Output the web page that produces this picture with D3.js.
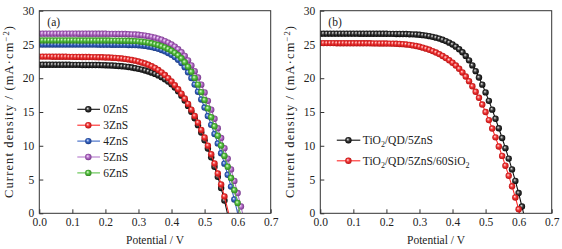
<!DOCTYPE html>
<html>
<head>
<meta charset="utf-8">
<script src="https://cdn.jsdelivr.net/npm/d3@7"></script>
<style>
  body { margin: 0; background: #fff; }
  svg { display: block; }
  text { font-family: "Liberation Serif", "Times New Roman", serif; fill: #222; }
</style>
</head>
<body>
<svg id="chart" width="562" height="249"></svg>
<script>
// Potential (V) of each measured point
const volts = [0.00,0.01,0.02,0.03,0.04,0.05,0.06,0.07,0.08,0.09,
  0.10,0.11,0.12,0.13,0.14,0.15,0.16,0.17,0.18,0.19,
  0.20,0.21,0.22,0.23,0.24,0.25,0.26,0.27,0.28,0.29,
  0.30,0.31,0.32,0.33,0.34,0.35,0.36,0.37,0.38,0.39,
  0.40,0.41,0.42,0.43,0.44,0.45,0.46,0.47,0.48,0.49,
  0.50,0.51,0.52,0.53,0.54,0.55,0.56,0.57,0.58,0.59,
  0.60,0.61];

// Current density (mA/cm2), one value per point of volts
const j0ZnS = [22.0,22.0,22.0,22.0,22.0,22.0,21.99,21.99,21.99,21.99,
  21.98,21.98,21.98,21.97,21.97,21.97,21.96,21.96,21.95,21.94,
  21.92,21.9,21.88,21.85,21.81,21.77,21.72,21.66,21.58,21.49,
  21.39,21.28,21.15,21.0,20.83,20.64,20.42,20.16,19.86,19.51,
  19.1,18.62,18.06,17.42,16.7,15.9,15.03,14.08,13.05,11.95,
  10.8,9.6,8.3,6.9,5.4,3.75,1.9];
const j3ZnS = [23.2,23.2,23.2,23.2,23.19,23.19,23.19,23.18,23.18,23.17,
  23.17,23.16,23.16,23.15,23.14,23.14,23.13,23.12,23.11,23.1,
  23.08,23.06,23.04,23.01,22.97,22.92,22.86,22.79,22.7,22.6,
  22.48,22.34,22.18,21.99,21.77,21.52,21.22,20.87,20.47,20.02,
  19.52,18.97,18.37,17.71,16.99,16.2,15.35,14.42,13.42,12.35,
  11.22,10.02,8.75,7.38,5.9,4.28,2.5];
const j4ZnS = [25.0,25.0,25.0,25.0,25.0,25.0,25.0,24.99,24.99,24.99,
  24.99,24.99,24.98,24.98,24.98,24.98,24.98,24.98,24.97,24.97,
  24.97,24.97,24.96,24.96,24.95,24.95,24.94,24.93,24.92,24.91,
  24.89,24.85,24.79,24.71,24.61,24.49,24.35,24.18,23.98,23.74,
  23.46,23.13,22.74,22.26,21.64,20.88,20.02,19.06,18.0,16.86,
  15.66,14.41,13.1,11.75,10.35,8.9,7.35,5.7,3.95,2.05];
const j5ZnS = [26.6,26.6,26.6,26.6,26.6,26.6,26.6,26.6,26.6,26.6,
  26.6,26.6,26.59,26.59,26.59,26.59,26.59,26.58,26.58,26.58,
  26.58,26.57,26.57,26.56,26.56,26.55,26.54,26.52,26.5,26.47,
  26.43,26.38,26.31,26.23,26.13,26.01,25.87,25.7,25.5,25.27,
  25.0,24.68,24.3,23.85,23.3,22.65,21.9,21.05,20.1,19.05,
  17.9,16.65,15.35,14.0,12.6,11.15,9.65,8.1,6.5,4.8,
  3.0,1.0];
const j6ZnS = [25.6,25.6,25.6,25.6,25.6,25.6,25.6,25.6,25.6,25.6,
  25.6,25.6,25.59,25.59,25.59,25.59,25.59,25.58,25.58,25.58,
  25.58,25.58,25.57,25.57,25.56,25.56,25.55,25.54,25.52,25.5,
  25.46,25.41,25.35,25.27,25.17,25.05,24.91,24.75,24.56,24.33,
  24.07,23.76,23.4,22.95,22.38,21.7,20.95,20.05,19.05,17.95,
  16.78,15.53,14.23,12.88,11.48,10.03,8.5,6.9,5.23,3.43,
  1.53];
const jSiO2 = [25.2,25.2,25.2,25.2,25.2,25.19,25.19,25.19,25.19,25.18,
  25.18,25.18,25.18,25.17,25.17,25.17,25.16,25.16,25.15,25.15,
  25.14,25.13,25.12,25.1,25.08,25.05,25.0,24.94,24.86,24.77,
  24.66,24.53,24.38,24.21,24.02,23.81,23.57,23.3,23.0,22.67,
  22.3,21.88,21.4,20.86,20.25,19.57,18.82,18.0,17.1,16.1,
  15.0,13.8,12.55,11.25,9.9,8.5,7.05,5.55,4.0,2.35,
  0.6];

// open-circuit potential where each fitted line meets J = 0
const vocA = [0.569, 0.573, 0.600, 0.615, 0.608];
const vocB = [0.615, 0.6034];

const namesA = ["0ZnS", "3ZnS", "4ZnS", "5ZnS", "6ZnS"];
const seriesA = [j0ZnS, j3ZnS, j4ZnS, j5ZnS, j6ZnS];
const seriesB = [j5ZnS, jSiO2];

const xTicks = [0, 0.1, 0.2, 0.3, 0.4, 0.5, 0.6, 0.7];
const yTicks = [0, 5, 10, 15, 20, 25, 30];

const palette = {
  black:  {line: "#111111", hi: "#e8e8e8", mid: "#3a3a3a", lo: "#000000"},
  red:    {line: "#ff2a2a", hi: "#ffe0e0", mid: "#f03535", lo: "#b00c0c"},
  blue:   {line: "#3a66c4", hi: "#dde6ff", mid: "#3462c0", lo: "#17337a"},
  purple: {line: "#b478cc", hi: "#f6e6ff", mid: "#b56cc8", lo: "#6c2f80"},
  green:  {line: "#5cc24a", hi: "#e8ffdf", mid: "#55c040", lo: "#2a7a1c"}
};
const colorsA = ["black", "red", "blue", "purple", "green"];
const colorsB = ["black", "red"];

const svg = d3.select("#chart");

// shaded bead gradients
const defs = svg.append("defs");
Object.entries(palette).forEach(([k, c]) => {
  const g = defs.append("radialGradient")
      .attr("id", "bead-" + k)
      .attr("cx", "50%").attr("cy", "50%").attr("r", "55%")
      .attr("fx", "38%").attr("fy", "35%");
  g.append("stop").attr("offset", "0%").attr("stop-color", c.hi);
  g.append("stop").attr("offset", "45%").attr("stop-color", c.mid);
  g.append("stop").attr("offset", "100%").attr("stop-color", c.lo);
});

function drawPanel(left, tag, series, colors, vocs) {
  const width = 231.4, height = 202.6, top = 10.7;

  const x = d3.scaleLinear().domain([0, 0.7]).range([0, width]);
  const y = d3.scaleLinear().domain([0, 30]).range([height, 0]);

  const g = svg.append("g").attr("transform", `translate(${left},${top})`);

  const clipId = "clip-" + tag;
  g.append("clipPath").attr("id", clipId)
    .append("rect").attr("width", width).attr("height", height);

  const xAxis = d3.axisBottom(x).tickValues(xTicks).tickFormat(d3.format(".1f"))
      .tickSizeInner(-4).tickSizeOuter(0).tickPadding(5);
  const yAxis = d3.axisLeft(y).tickValues(yTicks)
      .tickSizeInner(-4).tickSizeOuter(0).tickPadding(5);

  const xg = g.append("g").attr("transform", `translate(0,${height})`).call(xAxis);
  const yg = g.append("g").call(yAxis);
  [xg, yg].forEach(a => {
    a.select(".domain").remove();
    a.selectAll("line").attr("stroke", "#333");
    a.selectAll("text").style("font-size", "11.5px").attr("fill", "#222");
  });

  const marks = g.append("g").attr("clip-path", `url(#${clipId})`);

  series.forEach((vals, i) => {
    const c = palette[colors[i]];
    const pts = vals.map((v, k) => [volts[k], v]);
    const linePts = pts.concat([[vocs[i], 0]]);

    marks.append("path")
        .datum(linePts)
        .attr("fill", "none")
        .attr("stroke", c.line)
        .attr("stroke-width", 1.1)
        .attr("d", d3.line().x(d => x(d[0])).y(d => y(d[1])));

    marks.append("g").selectAll("circle")
      .data(pts)
      .join("circle")
        .attr("cx", d => x(d[0]))
        .attr("cy", d => y(d[1]))
        .attr("r", 3.2)
        .attr("fill", `url(#bead-${colors[i]})`);
  });

  // frame
  g.append("rect")
      .attr("width", width).attr("height", height)
      .attr("fill", "none").attr("stroke", "#333").attr("stroke-width", 1);

  g.append("text")
      .attr("x", 8).attr("y", 15)
      .style("font-size", "11.5px")
      .text(`(${tag})`);

  g.append("text")
      .attr("x", width / 2).attr("y", height + 31)
      .attr("text-anchor", "middle")
      .style("font-size", "11.5px")
      .text("Potential / V");

  const yl = g.append("text")
      .attr("transform", `translate(-26,${height / 2}) rotate(-90)`)
      .attr("text-anchor", "middle")
      .attr("textLength", 172)
      .attr("lengthAdjust", "spacing")
      .style("font-size", "12.5px");
  yl.append("tspan").text("Current density / (mA\u00b7cm");
  yl.append("tspan").attr("dy", -4.5).style("font-size", "8.5px").text("\u22122");
  yl.append("tspan").attr("dy", 4.5).text(")");

  return {g, x, y};
}

const pa = drawPanel(39.3, "a", seriesA, colorsA, vocA);
const pb = drawPanel(320.3, "b", seriesB, colorsB, vocB);

// legend of panel (a)
const legA = pa.g.append("g").attr("transform", "translate(38,98.6)");
namesA.forEach((n, i) => {
  const c = palette[colorsA[i]];
  const row = legA.append("g").attr("transform", `translate(0,${i * 15.9})`);
  row.append("line").attr("x1", 0).attr("x2", 22.7)
      .attr("stroke", c.line).attr("stroke-width", 1.1);
  row.append("circle").attr("cx", 11).attr("r", 3.2)
      .attr("fill", `url(#bead-${colorsA[i]})`);
  row.append("text").attr("x", 26).attr("dy", "0.35em")
      .style("font-size", "11.5px").text(n);
});

// legend of panel (b)
const legB = pb.g.append("g").attr("transform", "translate(16.5,129.5)");
const labelsB = [["TiO", "2", "/QD/5ZnS"], ["TiO", "2", "/QD/5ZnS/60SiO", "2"]];
labelsB.forEach((parts, i) => {
  const c = palette[colorsB[i]];
  const row = legB.append("g").attr("transform", `translate(0,${i * 20.6})`);
  row.append("line").attr("x1", 0).attr("x2", 23.5)
      .attr("stroke", c.line).attr("stroke-width", 1.1);
  row.append("circle").attr("cx", 11.6).attr("r", 3.2)
      .attr("fill", `url(#bead-${colorsB[i]})`);
  const t = row.append("text").attr("x", 26).attr("dy", "0.35em")
      .style("font-size", "11.5px");
  parts.forEach((p, k) => {
    if (k % 2 === 1) {
      t.append("tspan").attr("dy", 3).style("font-size", "8px").text(p);
    } else {
      t.append("tspan").attr("dy", k === 0 ? null : -3).text(p);
    }
  });
});
</script>
</body>
</html>
